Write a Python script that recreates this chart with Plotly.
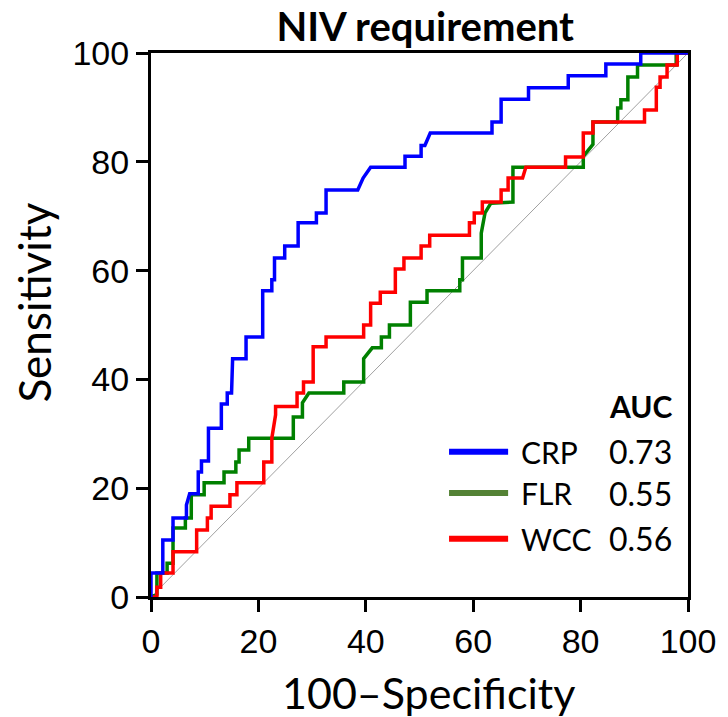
import plotly.graph_objects as go

# ROC curve vertices (100-Specificity, Sensitivity)
crp_x = [0, 0, 2.2, 2.2, 4.1, 4.1, 6.6, 6.6, 7.2, 8.8, 8.8, 9.4, 9.4, 10.7, 10.7, 13.1, 13.1, 14.2, 14.2,
         15.0, 15.2, 17.7, 17.7, 20.8, 20.8, 22.5, 22.5, 23.0, 23.0, 24.9, 24.9, 27.4, 27.4, 30.8, 30.8,
         32.6, 32.6, 38.5, 39.5, 40.9, 47.3, 47.3, 50.3, 50.3, 51.0, 52.0, 63.5, 63.5, 65.2, 65.2, 70.3,
         70.3, 77.7, 77.7, 84.7, 84.7, 91.2, 91.2, 100]
crp_y = [0, 4.4, 4.4, 10.5, 10.5, 14.5, 14.5, 16.9, 19.0, 19.0, 23.0, 23.0, 25.0, 25.0, 31.0, 31.0, 35.5, 35.5, 37.5,
         37.5, 43.8, 43.8, 47.8, 47.8, 56.3, 56.3, 58.3, 58.3, 62.3, 62.3, 64.5, 64.5, 68.8, 68.8, 70.6,
         70.6, 74.8, 74.8, 77.0, 79.0, 79.0, 81.0, 81.0, 83.0, 83.0, 85.3, 85.3, 87.3, 87.3, 91.5, 91.5,
         93.6, 93.6, 95.8, 95.8, 98.0, 98.0, 100, 100]

flr_x = [0, 1.1, 1.1, 3.0, 3.0, 4.1, 4.1, 6.4, 6.4, 7.5, 7.5, 9.9, 9.9, 13.6, 13.6, 15.8, 15.8, 16.4, 16.4,
         18.2, 18.2, 26.5, 26.5, 28.2, 28.2, 29.4, 35.9, 35.9, 39.6, 39.6, 41.2, 42.9, 42.9, 44.4, 44.4,
         48.3, 48.3, 51.4, 51.4, 57.5, 57.5, 58.0, 58.0, 61.5, 61.5, 62.2, 63.3, 67.4, 67.4, 80.5, 80.5,
         82.3, 82.3, 86.9, 86.9, 87.5, 87.5, 88.8, 88.8, 90.6, 90.6, 97.8, 97.8, 100]
flr_y = [0, 0.5, 4.4, 4.4, 6.2, 6.2, 12.7, 12.7, 14.5, 14.5, 18.8, 18.8, 21.0, 21.0, 23.0, 23.0, 24.8, 24.8, 27.0,
         27.0, 29.2, 29.2, 33.1, 33.1, 35.7, 37.5, 37.5, 39.5, 39.5, 43.8, 45.8, 45.8, 47.8, 47.8, 50.0,
         50.0, 54.2, 54.2, 56.3, 56.3, 58.3, 58.3, 62.3, 62.3, 66.9, 70.6, 72.4, 72.6, 79.0, 79.0, 81.0,
         83.2, 87.3, 87.3, 89.9, 89.9, 91.4, 91.4, 95.6, 95.6, 97.8, 97.8, 100, 100]

wcc_x = [0, 1.1, 1.1, 1.8, 1.8, 4.1, 4.1, 8.5, 8.5, 10.5, 10.5, 11.2, 11.2, 14.7, 14.7, 16.0, 16.0, 21.0, 21.0,
         22.5, 22.5, 23.2, 23.2, 27.2, 27.2, 28.4, 28.4, 30.2, 30.2, 32.6, 32.6, 39.6, 39.6, 40.9, 40.9,
         42.7, 42.7, 45.5, 45.5, 47.1, 47.1, 50.3, 50.3, 51.9, 51.9, 59.3, 59.3, 60.2, 60.2, 61.7, 61.7,
         65.2, 65.2, 66.5, 66.5, 69.2, 69.8, 77.2, 77.2, 80.5, 80.5, 82.3, 82.3, 91.9, 91.9, 94.1, 94.1,
         94.8, 94.8, 96.1, 96.1, 98.0, 98.0, 100]
wcc_y = [0, 0, 1.8, 1.8, 4.4, 4.4, 8.3, 8.3, 12.3, 12.3, 14.5, 14.5, 16.7, 16.7, 18.8, 18.8, 21.0, 21.0, 24.8,
         24.8, 29.2, 33.5, 35.0, 35.0, 37.5, 37.5, 39.5, 39.5, 46.0, 46.0, 47.8, 47.8, 50.0, 50.0, 54.0,
         54.0, 56.0, 56.0, 60.3, 60.3, 62.3, 62.3, 64.5, 64.5, 66.5, 66.5, 68.8, 68.8, 70.6, 70.6, 72.6,
         72.6, 74.8, 74.8, 77.0, 77.0, 79.0, 79.0, 80.9, 80.9, 85.3, 85.3, 87.3, 87.3, 89.5, 89.5, 93.7,
         93.7, 95.6, 95.6, 97.8, 97.8, 100, 100]

names = ["CRP", "FLR", "WCC"]
aucs = ["0.73", "0.55", "0.56"]
curve_colors = ["#0000FF", "#008000", "#FF0000"]
legend_colors = ["#0000FF", "#548235", "#FF0000"]
ticks = [0, 20, 40, 60, 80, 100]

fig = go.Figure()
fig.add_trace(go.Scatter(x=[0, 100], y=[0, 100], mode="lines",
                         line=dict(color="#A0A0A0", width=1), hoverinfo="skip"))
for xs, ys, c, n in [(flr_x, flr_y, curve_colors[1], names[1]),
                     (wcc_x, wcc_y, curve_colors[2], names[2]),
                     (crp_x, crp_y, curve_colors[0], names[0])]:
    fig.add_trace(go.Scatter(x=xs, y=ys, mode="lines", name=n,
                             line=dict(color=c, width=3.5)))

# legend (manual)
row_y = [26.7, 19.1, 10.7]
for i in range(3):
    fig.add_shape(type="line", x0=55.5, x1=66.5, y0=row_y[i], y1=row_y[i], xref="x", yref="y",
                  line=dict(color=legend_colors[i], width=6))
    fig.add_annotation(x=68.5, y=row_y[i], xref="x", yref="y", text=names[i], showarrow=False,
                       xanchor="left", yanchor="middle", font=dict(family="Lato", size=30, color="black"))
    fig.add_annotation(x=84.9, y=row_y[i], xref="x", yref="y", text=aucs[i], showarrow=False,
                       xanchor="left", yanchor="middle", font=dict(family="Lato", size=32, color="black"))
fig.add_annotation(x=84.9, y=35.1, xref="x", yref="y", text="<b>AUC</b>", showarrow=False,
                   xanchor="left", yanchor="middle", font=dict(family="Lato", size=30, color="black"))

# axis titles
fig.add_annotation(x=0.516, y=-0.175, xref="paper", yref="paper", text="100–Specificity",
                   showarrow=False, xanchor="center", yanchor="middle",
                   font=dict(family="Lato", size=43, color="black"))
fig.add_annotation(x=-0.217, y=0.542, xref="paper", yref="paper", text="Sensitivity",
                   showarrow=False, xanchor="center", yanchor="middle", textangle=-90,
                   font=dict(family="Lato", size=44, color="black"))

fig.update_layout(
    width=728, height=717,
    margin=dict(l=151, r=34, t=53, b=120),
    paper_bgcolor="white", plot_bgcolor="white",
    showlegend=False,
    title=dict(text="<b>NIV requirement</b>", x=0.584, xanchor="center", y=0.962, yanchor="middle",
               font=dict(family="Lato", size=40, color="black")),
)
fig.update_xaxes(range=[0, 100], tickvals=ticks, ticks="outside", ticklen=12, tickwidth=2.5,
                 tickcolor="black", showline=True, linecolor="black", linewidth=3, mirror=True,
                 showgrid=False, zeroline=False,
                 tickfont=dict(family="Liberation Sans", size=34, color="black"))
fig.update_yaxes(range=[0, 100], tickvals=ticks, ticks="outside", ticklen=12, tickwidth=2.5,
                 tickcolor="black", showline=True, linecolor="black", linewidth=3, mirror=True,
                 showgrid=False, zeroline=False,
                 tickfont=dict(family="Liberation Sans", size=34, color="black"))

fig.write_html("out.html")
